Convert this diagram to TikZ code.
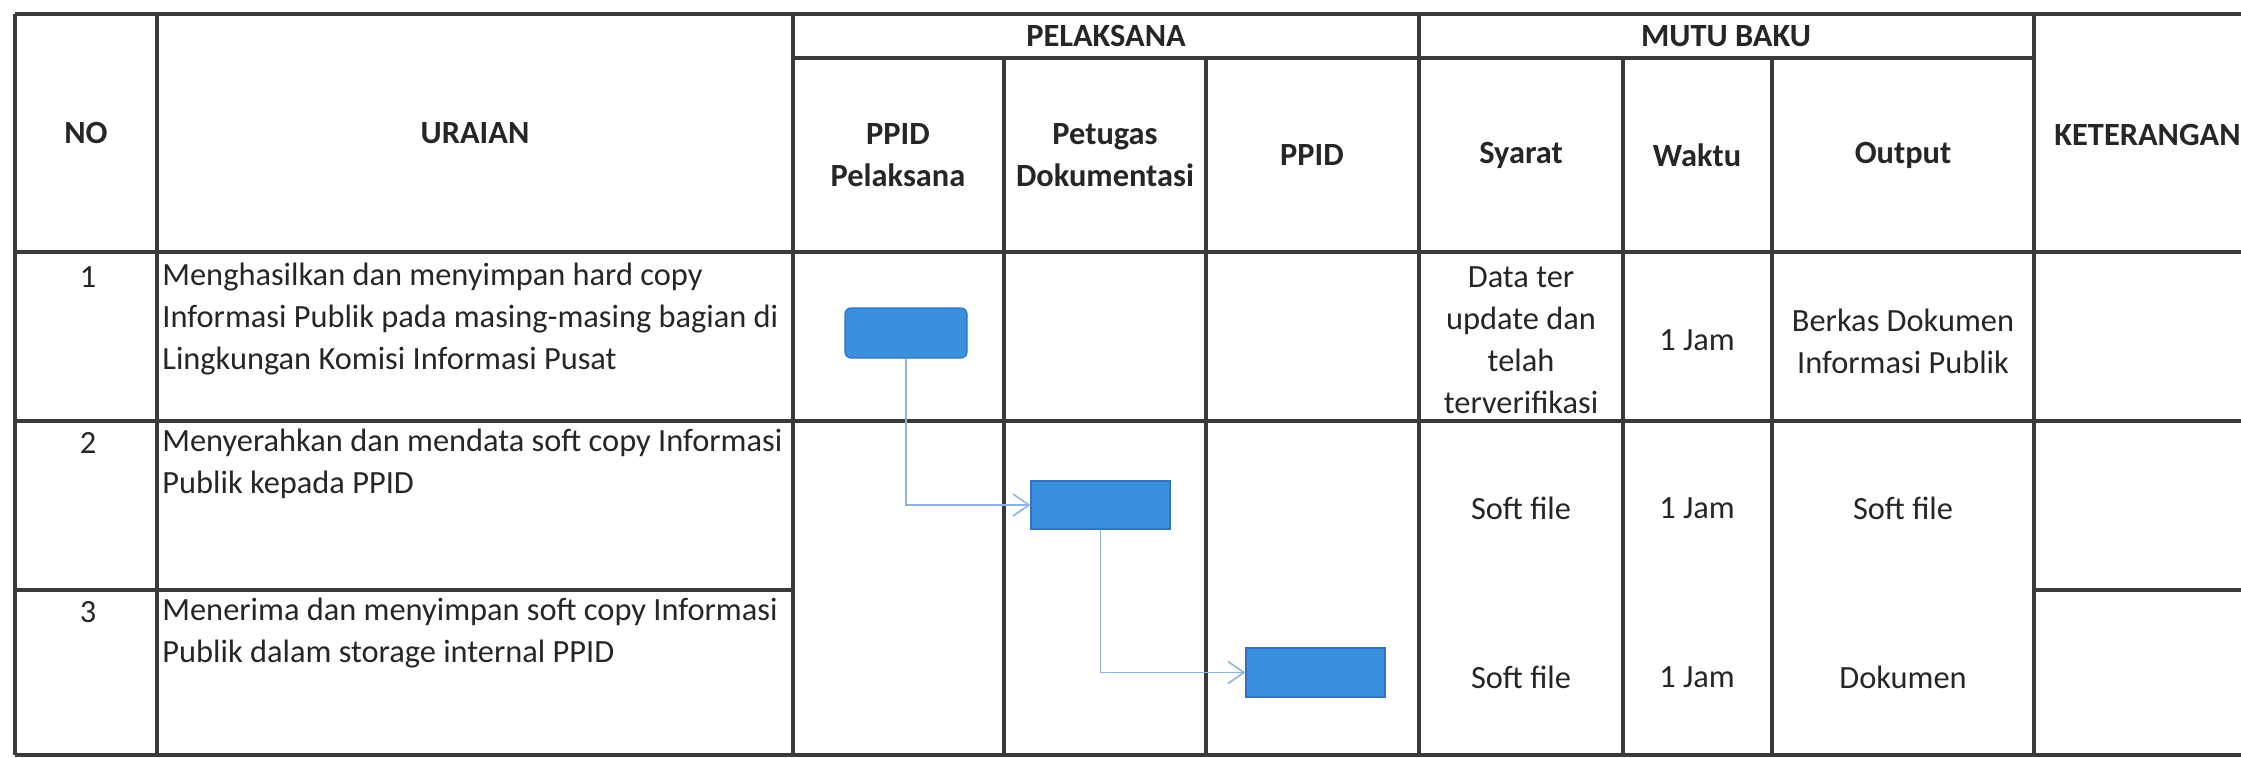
\documentclass[tikz,border=0pt]{standalone}
\usepackage{fontspec}
\setmainfont{Carlito}
\usetikzlibrary{arrows.meta}
\definecolor{gridgray}{HTML}{3A3A3A}
\definecolor{boxblue}{HTML}{3A8FDF}
\definecolor{boxedge}{HTML}{3272BE}
\definecolor{flowblue}{HTML}{8DB3E2}
\newcommand{\Head}[4]{\node[head] (#1) at (#2,#3) {#4};}
\newcommand{\Cell}[4]{\node[cell] (#1) at (#2,#3) {#4};}
\newcommand{\Uraian}[3]{\node[desc] (#1) at (162,#2) {#3};}

\begin{document}
\begin{tikzpicture}[x=0.5pt,y=-0.5pt,
	grid/.style={draw=gridgray, line width=1.7pt},
	head/.style={font=\fontsize{16.2}{21}\selectfont\bfseries, align=center, text=black!85, inner sep=0pt},
	cell/.style={font=\fontsize{16.2}{21}\selectfont, align=center, text=black!85, inner sep=0pt},
	desc/.style={cell, align=left, anchor=west},
	act/.style={draw=boxedge, fill=boxblue, line width=0.6pt, inner sep=0pt},
	flow/.style={draw=flowblue, line width=0.8pt, -{Straight Barb[length=8pt,width=11pt]}}]
	\useasboundingbox (0,0) rectangle (2241,757);

	% table frame
	\draw[grid] (15,14) -- (2241,14);
	\draw[grid] (793,58) -- (2034,58);
	\draw[grid] (15,252) -- (2241,252);
	\draw[grid] (15,421) -- (2241,421);
	\draw[grid] (15,590) -- (793,590);
	\draw[grid] (2034,590) -- (2241,590);
	\draw[grid] (15,755) -- (2241,755);
	\draw[grid] (15,14) -- (15,755);
	\draw[grid] (157,14) -- (157,755);
	\draw[grid] (793,14) -- (793,755);
	\draw[grid] (1004,58) -- (1004,755);
	\draw[grid] (1206,58) -- (1206,755);
	\draw[grid] (1419,14) -- (1419,755);
	\draw[grid] (1623,58) -- (1623,755);
	\draw[grid] (1772,58) -- (1772,755);
	\draw[grid] (2034,14) -- (2034,755);

	% header
	\Head{no}{86}{133}{NO}
	\Head{uraian}{475}{133}{URAIAN}
	\Head{pelaksana}{1106}{36}{PELAKSANA}
	\Head{mutu}{1726}{36}{MUTU BAKU}
	\Head{ppidpel}{898}{155}{PPID\\Pelaksana}
	\Head{petugas}{1105}{155}{Petugas\\Dokumentasi}
	\Head{ppid}{1312}{155}{PPID}
	\Head{syarat}{1521}{155}{Syarat}
	\Head{waktu}{1697}{155}{Waktu}
	\Head{output}{1903}{155}{Output}
	\node[head, anchor=west] (ket) at (2054,135) {KETERANGAN};

	% rows
	\Cell{n1}{88}{277}{1}
	\Cell{n2}{88}{443}{2}
	\Cell{n3}{88}{612}{3}
	\Uraian{u1}{319}{Menghasilkan dan menyimpan hard copy\\Informasi Publik pada masing-masing bagian di\\Lingkungan Komisi Informasi Pusat}
	\Uraian{u2}{464}{Menyerahkan dan mendata soft copy Informasi\\Publik kepada PPID}
	\Uraian{u3}{633}{Menerima dan menyimpan soft copy Informasi\\Publik dalam storage internal PPID}
	\Cell{s1}{1521}{340}{Data ter\\update dan\\telah\\terverifikasi}
	\Cell{w1}{1697}{340}{1 Jam}
	\Cell{o1}{1903}{341}{Berkas Dokumen\\Informasi Publik}
	\Cell{s2}{1521}{508}{Soft file}
	\Cell{w2}{1697}{508}{1 Jam}
	\Cell{o2}{1903}{508}{Soft file}
	\Cell{s3}{1521}{677}{Soft file}
	\Cell{w3}{1697}{677}{1 Jam}
	\Cell{o3}{1903}{677}{Dokumen}

	% flow
	\node[act, rounded corners=3pt, minimum width=61pt, minimum height=25pt] (act1) at (906,333) {};
	\node[act, minimum width=69.5pt, minimum height=24pt] (act2) at (1100.5,505) {};
	\node[act, minimum width=69.5pt, minimum height=24.5pt] (act3) at (1315.5,672.5) {};
	\draw[flow] (act1.south) |- (act2.west);
	\draw[flow] (act2.south) |- (act3.west);
\end{tikzpicture}
\end{document}
